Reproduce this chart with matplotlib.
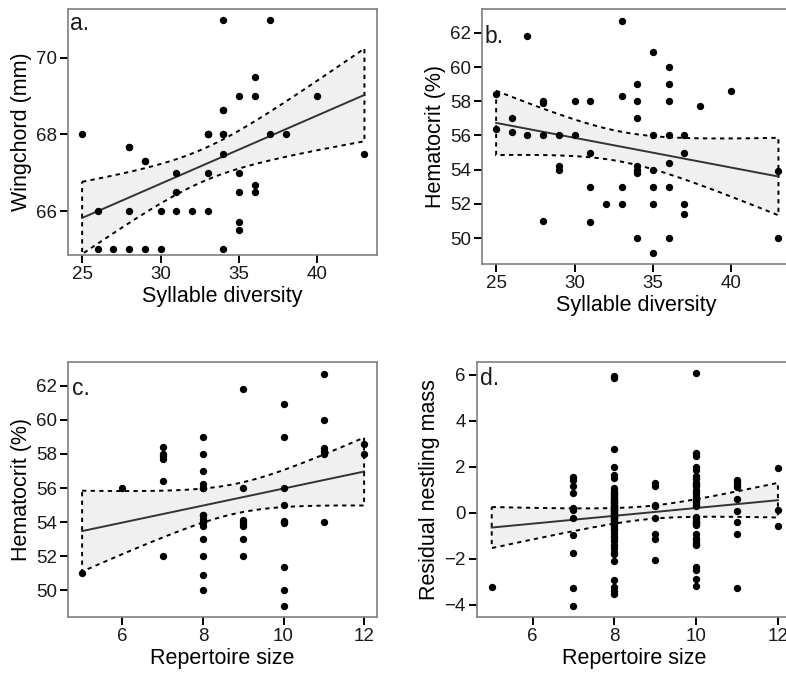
import numpy as np
import matplotlib
matplotlib.use("Agg")
import matplotlib.pyplot as plt
from matplotlib.patches import Polygon

plt.rcParams['font.family'] = ['Liberation Sans', 'DejaVu Sans']

# ---- a. wingchord vs syllable diversity (coincident birds listed repeatedly) ----
a_x = [25, 26, 26, 27, 28, 28, 28, 28, 29, 29, 29, 30, 30, 31, 31, 31, 32,
       33, 33, 33, 33, 33,
       34, 34, 34, 34, 34, 34, 34, 35, 35, 35, 35, 35, 36, 36, 36, 36, 37, 37, 38, 40, 43]
a_y = [68, 66, 65, 65, 67.67, 67.67, 66, 65, 67.32, 67.32, 65, 66, 65, 67, 66.5, 66, 66,
       68, 68, 68, 67, 66,
       71, 68.65, 68.65, 68, 68, 67.5, 65, 69, 67, 66.5, 65.7, 65.5, 69.5, 69, 66.68, 66.5,
       71, 68, 68, 69, 67.5]

# ---- b. hematocrit vs syllable diversity ----
b_x = [25, 25, 26, 26, 27, 27, 28, 28, 28, 28, 29, 29, 29, 30, 30, 31, 31, 31, 31, 32,
       33, 33, 33, 33, 34, 34, 34, 34, 34, 34, 34, 35, 35, 35, 35, 35, 35,
       36, 36, 36, 36, 36, 36, 36, 37, 37, 37, 37, 38, 40, 43, 43]
b_y = [58.4, 56.4, 57.0, 56.2, 61.84, 56.0, 58.0, 57.9, 56.0, 51.0, 56.0, 54.2, 54.0,
       58.0, 56.0, 58.0, 55.0, 53.0, 50.93, 52.0,
       62.72, 58.3, 53.0, 52.0, 59.0, 58.0, 57.0, 54.2, 54.0, 53.8, 50.0,
       60.9, 56.0, 54.0, 53.0, 52.0, 49.1,
       60.0, 59.0, 58.0, 56.0, 54.4, 53.0, 50.0, 56.0, 55.0, 52.0, 51.4, 57.7, 58.6, 53.9, 50.0]

# ---- c. hematocrit vs repertoire size ----
c_x = [5, 6, 7, 7, 7, 7, 7, 7,
       8, 8, 8, 8, 8, 8, 8, 8, 8, 8, 8, 8, 8, 8, 8, 8,
       9, 9, 9, 9, 9, 9, 9, 9,
       10, 10, 10, 10, 10, 10, 10, 10, 10, 10,
       11, 11, 11, 11, 11, 11, 12, 12]
c_y = [51.0, 56.0, 58.4, 58.0, 57.85, 57.7, 56.4, 52.0,
       59.0, 58.0, 57.0, 56.25, 56.0, 56.0, 54.4, 54.4, 54.2, 54.0, 54.0, 53.8, 53.0, 52.0,
       50.9, 50.0,
       61.8, 56.0, 54.1, 54.0, 53.9, 53.75, 53.0, 52.0,
       60.9, 59.0, 56.0, 55.0, 54.05, 54.0, 53.95, 51.4, 50.0, 49.1,
       62.7, 60.0, 58.35, 58.2, 58.0, 54.0, 58.6, 58.0]

# ---- d. residual nestling mass vs repertoire size ----
d_rep = {
    5: [-3.25],
    7: [1.55, 1.4, 1.15, 0.85, 0.2, 0.13, -0.25, -0.97, -1.74, -3.26, -4.07],
    8: [5.95, 5.85, 2.77, 2.0, 1.65, 1.5, 1.05, 0.95, 0.9, 0.85, 0.8, 0.75, 0.7, 0.65,
        0.6, 0.55, 0.5, 0.45, 0.4, 0.4, 0.35, 0.3, 0.3, 0.25, 0.2, 0.2, 0.15, 0.1, 0.1,
        0.05, 0.0, 0.0, -0.05, -0.1, -0.15, -0.2, -0.2, -0.25, -0.27, -0.3, -0.35, -0.4,
        -0.45, -0.5, -0.6, -0.7, -0.75, -0.9, -1.0, -1.1, -1.25, -1.4, -1.55, -1.7, -1.8,
        -2.12, -2.95, -3.25, -3.4, -3.55],
    9: [1.29, 1.14, 0.35, 0.28, -0.25, -0.91, -1.14, -2.04],
    10: [6.07, 2.6, 2.45, 2.0, 1.85, 1.6, 1.45, 1.3, 1.25, 1.2, 1.15, 1.0, 0.9, 0.8, 0.7,
         0.6, 0.5, 0.45, 0.35, 0.3, -0.2, -0.25, -0.3, -0.39, -0.4, -0.45, -0.5, -0.55,
         -0.95, -1.1, -1.2, -1.3, -1.35, -1.4, -2.35, -2.5, -2.9, -3.2],
    11: [1.43, 1.35, 1.2, 1.1, 0.59, 0.06, -0.42, -0.91, -3.29],
    12: [1.94, 0.13, -0.57],
}
d_x = [k for k, v in d_rep.items() for _ in v]
d_y = [y for v in d_rep.values() for y in v]

W, H = 786, 673


def rect(left, top, right, bottom):
    return [left / W, 1 - bottom / H, (right - left) / W, (bottom - top) / H]


def t_quantile(df, p=0.975):
    # Cornish-Fisher expansion of the Student t quantile
    z = 1.959964
    g1 = (z ** 3 + z) / 4
    g2 = (5 * z ** 5 + 16 * z ** 3 + 3 * z) / 96
    g3 = (3 * z ** 7 + 19 * z ** 5 + 17 * z ** 3 - 15 * z) / 384
    return z + g1 / df + g2 / df ** 2 + g3 / df ** 3


def fit_band(x, y, ngrid=80):
    x = np.asarray(x, float)
    y = np.asarray(y, float)
    n = len(x)
    slope, intercept = np.polyfit(x, y, 1)
    resid = y - (intercept + slope * x)
    s = np.sqrt(np.sum(resid ** 2) / (n - 2))
    xbar = x.mean()
    sxx = np.sum((x - xbar) ** 2)
    gx = np.linspace(x.min(), x.max(), ngrid)
    gy = intercept + slope * gx
    se = s * np.sqrt(1 / n + (gx - xbar) ** 2 / sxx)
    t = t_quantile(n - 2)
    return gx, gy, gy - t * se, gy + t * se


FRAME = '#7f7f7f'


def panel(fig, box, x, y, xlim, ylim, xticks, yticks, xlabel, ylabel, letter, letter_pos):
    ax = fig.add_axes(rect(*box))
    gx, gy, lo, hi = fit_band(x, y)
    verts = np.column_stack([np.r_[gx, gx[::-1]], np.r_[hi, lo[::-1]]])
    ax.add_patch(Polygon(verts, closed=True, facecolor='#f0f0f0', edgecolor='black',
                         linewidth=1.4, linestyle=(0, (2.2, 2.2)), zorder=1))
    ax.plot(gx, gy, color='#333333', linewidth=1.4, zorder=2)
    ax.scatter(x, y, s=28, color='black', linewidths=0, zorder=3)
    ax.set_xlim(*xlim)
    ax.set_ylim(*ylim)
    ax.set_xticks(xticks)
    ax.set_yticks(yticks)
    for sp in ax.spines.values():
        sp.set_color(FRAME)
        sp.set_linewidth(1.2)
    ax.tick_params(direction='out', length=6, width=1.4, color='black',
                   labelsize=13.5, pad=2, labelcolor='#1a1a1a')
    ax.set_xlabel(xlabel, fontsize=15.5, labelpad=2)
    ax.set_ylabel(ylabel, fontsize=15.5, labelpad=3)
    ax.text(letter_pos[0], letter_pos[1], letter, transform=ax.transAxes,
            fontsize=16.5, ha='left', va='baseline', color='#1a1a1a')
    return ax


fig = plt.figure(figsize=(W / 100, H / 100), dpi=100)

panel(fig, (68, 9, 377, 255), a_x, a_y, (24.1, 43.8), (64.85, 71.28),
      [25, 30, 35, 40], [66, 68, 70], 'Syllable diversity', 'Wingchord (mm)',
      'a.', (0.006, 0.915))
panel(fig, (482, 9, 791, 264), b_x, b_y, (24.1, 43.8), (48.48, 63.4),
      [25, 30, 35, 40], [50, 52, 54, 56, 58, 60, 62], 'Syllable diversity', 'Hematocrit (%)',
      'b.', (0.009, 0.867))
panel(fig, (68, 362, 377, 617), c_x, c_y, (4.65, 12.32), (48.44, 63.39),
      [6, 8, 10, 12], [50, 52, 54, 56, 58, 60, 62], 'Repertoire size', 'Hematocrit (%)',
      'c.', (0.012, 0.872))
panel(fig, (477, 362, 791, 617), d_x, d_y, (4.64, 12.32), (-4.54, 6.55),
      [6, 8, 10, 12], [-4, -2, 0, 2, 4, 6], 'Repertoire size', 'Residual nestling mass',
      'd.', (0.011, 0.911))

fig.savefig('out.png', dpi=100)
